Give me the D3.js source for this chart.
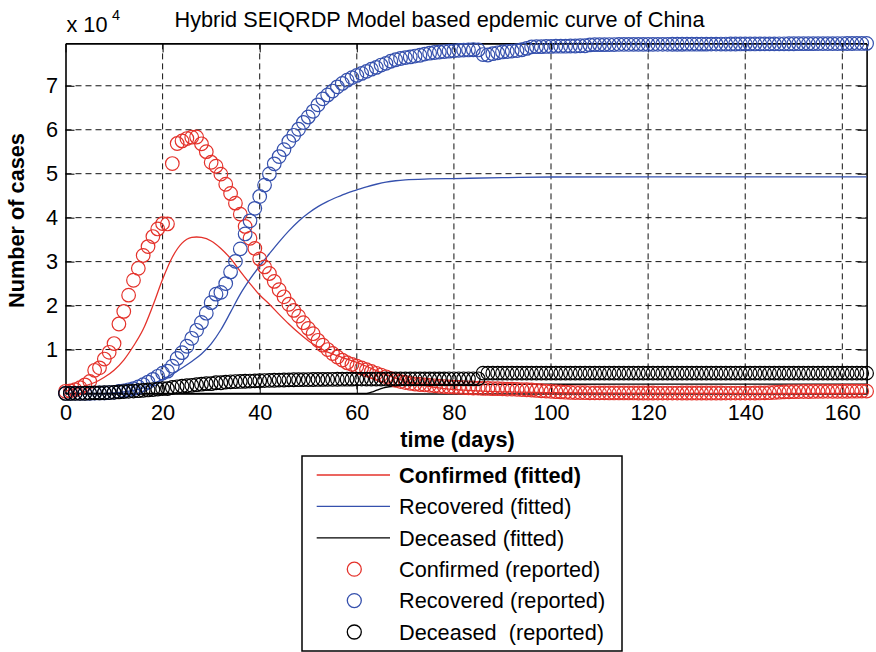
<!DOCTYPE html>
<html><head><meta charset="utf-8">
<script src="https://cdn.jsdelivr.net/npm/d3@7"></script>
<style>
body{margin:0;background:#fff}
text{font-family:"Liberation Sans",Arial,Helvetica,sans-serif}
</style>
</head><body>
<svg id="chart" width="876" height="652"></svg>
<script>
// ---------- DATA ----------
const titleText = "Hybrid SEIQRDP Model based epdemic curve of China";
const xTicks = [0, 20, 40, 60, 80, 100, 120, 140, 160];
const yTicks = [10000, 20000, 30000, 40000, 50000, 60000, 70000];
const yTickLabels = ["1", "2", "3", "4", "5", "6", "7"];

// reported, one value per day (day 0 .. 165)
const confirmedReported = [
  503,595,858,1325,1970,2737,5277,5834,7835,9375,
  11357,15806,18677,22374,25763,28479,31395,33415,35707,37426,
  38640,38564,52314,56865,57457,58000,58300,58350,56800,55000,
  52600,51700,49900,47600,45500,43300,40800,38000,35300,33000,
  30600,28800,27300,25500,23600,22000,20300,18900,17600,16100,
  14800,13600,12100,11000,10000,9100,8300,7600,7000,6600,
  6200,5800,5400,5000,4600,4200,3800,3400,3000,2700,
  2500,2300,2150,2050,1950,1850,1750,1650,1580,1500,
  1450,1400,1350,1300,1250,1200,1150,1150,1100,1100,
  1050,1000,1000,950,900,850,800,700,620,550,
  480,420,360,300,250,220,200,180,160,150,
  140,140,130,130,130,120,120,120,110,110,
  110,110,100,100,100,100,100,110,110,110,
  110,110,110,110,110,110,100,100,100,100,
  100,100,110,120,140,180,240,300,360,400,
  420,440,450,460,470,480,480,490,500,500,
  510,510,520,520,530,530
];
const recoveredReported = [
  28,30,36,39,49,58,101,120,135,214,
  275,463,614,843,1115,1476,1998,2595,3218,3917,
  4635,5079,6213,7973,9294,10748,12552,14376,16155,18264,
  20659,22600,23000,25000,27650,30053,32898,36291,39279,42118,
  44810,47404,49955,52240,53888,55478,57320,58735,60106,61644,
  62901,64196,65660,67017,67910,68798,69755,70535,71266,71857,
  72362,72814,73280,73773,74181,74720,75100,75582,75923,76206,
  76405,76565,76760,76946,77207,77410,77567,77679,77791,77877,
  77956,78050,78100,78150,78200,78150,77100,77000,77300,77500,
  77700,77800,77900,78000,78200,78500,78850,78900,78900,78950,
  78950,79000,79000,79000,79050,79050,79100,79100,79300,79350,
  79350,79350,79380,79380,79400,79400,79400,79420,79420,79420,
  79430,79430,79440,79440,79440,79450,79450,79450,79460,79460,
  79460,79470,79470,79480,79480,79490,79490,79500,79500,79510,
  79510,79520,79520,79530,79530,79540,79540,79550,79550,79560,
  79560,79570,79570,79580,79580,79590,79590,79600,79600,79610,
  79610,79620,79620,79630,79630,79640
];
const deceasedReported = [
  17,18,26,42,56,82,131,133,171,213,
  259,361,425,490,562,632,717,804,904,1011,
  1111,1116,1368,1520,1662,1765,1863,2002,2114,2236,
  2236,2443,2445,2595,2665,2717,2746,2790,2837,2872,
  2914,2947,2983,3015,3044,3072,3100,3123,3139,3161,
  3172,3180,3193,3203,3217,3230,3241,3249,3253,3259,
  3274,3274,3277,3281,3285,3291,3296,3299,3304,3308,
  3309,3316,3322,3326,3330,3333,3335,3335,3337,3339,
  3340,3341,3342,3344,3344,3345,4632,4632,4632,4632,
  4633,4633,4633,4633,4633,4633,4633,4633,4633,4633,
  4633,4633,4633,4633,4633,4633,4633,4633,4633,4633,
  4633,4633,4633,4633,4633,4633,4633,4633,4633,4633,
  4634,4634,4634,4634,4634,4634,4634,4634,4634,4634,
  4634,4634,4634,4634,4634,4634,4634,4634,4634,4634,
  4634,4634,4634,4634,4634,4634,4634,4634,4634,4634,
  4634,4634,4634,4634,4634,4634,4634,4634,4634,4634,
  4634,4634,4634,4634,4634,4634
];

// fitted curves (sampled days and values)
const confirmedFitDays = [0,2,4,6,8,10,12,14,16,18,20,22,24,26,27,28,30,32,34,36,38,40,42,44,46,48,50,52,54,56,58,60,62,64,66,68,70,74,78,82,86,90,100,110,120,140,165];
const confirmedFitted  = [500,1100,1700,2500,3700,5300,7600,10800,14600,20000,26000,31000,34200,35500,35600,35500,34700,33000,30700,27800,25000,22400,20300,18000,15800,13800,12000,10600,9400,8600,7800,7100,6200,5200,4300,3500,2800,1800,1100,750,520,380,200,120,80,40,20];
const recoveredFitDays = [0,8,10,12,14,16,18,20,22,24,26,28,30,32,34,36,38,40,42,44,46,48,50,52,54,56,58,60,62,64,66,68,70,75,80,90,100,120,165];
const recoveredFitted  = [0,50,150,350,700,1300,2200,3200,4400,5800,7300,9000,11300,14500,18500,22600,26000,29000,31800,34500,37000,39200,41000,42500,43700,44700,45600,46300,47000,47600,48100,48400,48600,48800,48900,49100,49250,49300,49300];
const deceasedFitDays = [0,62,63,64,65,66,68,70,75,80,100,130,165];
const deceasedFitted  = [0,0,300,700,1100,1400,1700,1900,2000,2050,2100,2120,2150];

const legendLabels = ["Confirmed (fitted)", "Recovered (fitted)", "Deceased (fitted)",
                      "Confirmed (reported)", "Recovered (reported)", "Deceased  (reported)"];

// ---------- CHART ----------
const RED = "#e4322b", BLUE = "#3550ad", BLACK = "#000";
const FS = 21.7;
const svg = d3.select("#chart");
const L = 65.5, R = 866.6, T = 43.4, B = 393.5;
const x = d3.scaleLinear().domain([0, 165]).range([L, R]);
const y = d3.scaleLinear().domain([0, 79640]).range([B, T]);

// grid
const grid = svg.append("g").attr("stroke", "#111").attr("stroke-width", 1).attr("stroke-dasharray", "6,4");
grid.selectAll(".gx").data(xTicks.filter(d => d > 0)).join("line")
  .attr("x1", d => x(d)).attr("x2", d => x(d)).attr("y1", T).attr("y2", B);
grid.selectAll(".gy").data(yTicks).join("line")
  .attr("y1", d => y(d)).attr("y2", d => y(d)).attr("x1", L).attr("x2", R);

// axes
function styleAxis(g) {
  g.selectAll(".domain").attr("stroke", "#000").attr("stroke-width", 1.6);
  g.selectAll(".tick line").attr("stroke", "#000").attr("stroke-width", 1);
  g.selectAll("text").attr("font-size", FS).attr("fill", "#000")
    .attr("font-family", '"Liberation Sans",Arial,sans-serif');
}
svg.append("g").attr("transform", `translate(0,${B})`)
  .call(d3.axisBottom(x).tickValues(xTicks).tickSize(-9).tickSizeOuter(0).tickPadding(11))
  .call(styleAxis);
svg.append("g").attr("transform", `translate(0,${T})`)
  .call(d3.axisTop(x).tickValues(xTicks).tickSize(-9).tickSizeOuter(0).tickFormat(""))
  .call(styleAxis);
svg.append("g").attr("transform", `translate(${L},0)`)
  .call(d3.axisLeft(y).tickValues(yTicks).tickSize(-9).tickSizeOuter(0).tickPadding(7.5)
    .tickFormat((d, i) => yTickLabels[i]))
  .call(styleAxis);
svg.append("g").attr("transform", `translate(${R},0)`)
  .call(d3.axisRight(y).tickValues(yTicks).tickSize(-9).tickSizeOuter(0).tickFormat(""))
  .call(styleAxis);

// fitted lines
function fitLine(days, vals, color) {
  const pts = days.map((d, i) => [d, vals[i]]);
  svg.append("path").datum(pts)
    .attr("fill", "none").attr("stroke", color).attr("stroke-width", 1.3)
    .attr("d", d3.line().x(d => x(d[0])).y(d => y(d[1])).curve(d3.curveMonotoneX));
}
fitLine(confirmedFitDays, confirmedFitted, RED);
fitLine(recoveredFitDays, recoveredFitted, BLUE);
fitLine(deceasedFitDays, deceasedFitted, BLACK);

// reported circles
function circles(vals, color) {
  svg.append("g").selectAll("circle").data(vals).join("circle")
    .attr("cx", (d, i) => x(i)).attr("cy", d => y(d)).attr("r", 6.8)
    .attr("fill", "none").attr("stroke", color).attr("stroke-width", 1.2);
}
circles(confirmedReported, RED);
circles(recoveredReported, BLUE);
circles(deceasedReported, BLACK);

// title & labels
svg.append("text").attr("x", 439.5).attr("y", 26.5).attr("text-anchor", "middle")
  .attr("font-size", FS).text(titleText);
svg.append("text").attr("x", 66.5).attr("y", 31.5).attr("font-size", FS).text("x 10");
svg.append("text").attr("x", 112).attr("y", 20).attr("font-size", 14.5).text("4");
svg.append("text").attr("transform", "translate(23.5,220.5) rotate(-90)")
  .attr("text-anchor", "middle").attr("font-size", FS).attr("font-weight", "bold").text("Number of cases");
svg.append("text").attr("x", 457.5).attr("y", 447).attr("text-anchor", "middle")
  .attr("font-size", FS).attr("font-weight", "bold").text("time (days)");

// legend
const lg = svg.append("g");
lg.append("rect").attr("x", 302).attr("y", 456).attr("width", 320).attr("height", 195)
  .attr("fill", "#fff").attr("stroke", "#000").attr("stroke-width", 1.5);
const legColors = [RED, BLUE, BLACK, RED, BLUE, BLACK];
legendLabels.forEach((lab, i) => {
  const cy = 475 + i * 31.4;
  if (i < 3) {
    lg.append("line").attr("x1", 316.7).attr("x2", 390).attr("y1", cy).attr("y2", cy)
      .attr("stroke", legColors[i]).attr("stroke-width", 1.3);
  } else {
    lg.append("circle").attr("cx", 354.3).attr("cy", cy).attr("r", 7)
      .attr("fill", "none").attr("stroke", legColors[i]).attr("stroke-width", 1.3);
  }
  lg.append("text").attr("x", 399).attr("y", cy + 7.7).attr("font-size", FS)
    .attr("font-weight", i === 0 ? "bold" : "normal")
    .style("white-space", "pre").text(lab);
});
</script>
</body></html>
